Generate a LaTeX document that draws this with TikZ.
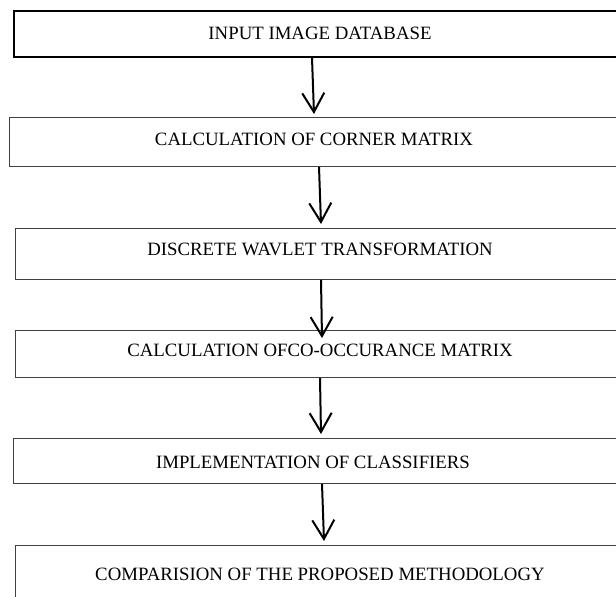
\documentclass[tikz,border=0pt]{standalone}
\usepackage{fontspec}
\setmainfont{Liberation Serif}
\usetikzlibrary{arrows.meta}
\begin{document}
\begin{tikzpicture}[x=1pt,y=-1pt,
  box/.style={draw=black!75, line width=0.9pt, rectangle, inner sep=0pt, anchor=north west, fill=none},
  firstbox/.style={box, draw=black, line width=1.8pt},
  lbl/.style={inner sep=0pt, font=\fontsize{18.8}{22}\selectfont},
  arr/.style={line width=2pt, -{Straight Barb[length=19pt,width=22pt,line width=2pt]}}]
\useasboundingbox (0,0) rectangle (616,597);
\clip (0,0) rectangle (616,597);
% boxes
\node[firstbox, minimum width=630pt, minimum height=46pt] (b1) at (13,10) {};
\node[box, minimum width=630pt, minimum height=49pt] (b2) at (9,117) {};
\node[box, minimum width=630pt, minimum height=51pt] (b3) at (15,228) {};
\node[box, minimum width=630pt, minimum height=47pt] (b4) at (15,330) {};
\node[box, minimum width=630pt, minimum height=45pt] (b5) at (13,438) {};
\node[box, minimum width=630pt, minimum height=80pt] (b6) at (15,545) {};
% labels
\node[lbl] (t1) at (320,33) {INPUT IMAGE DATABASE};
\node[lbl] (t2) at (314,139) {CALCULATION OF CORNER MATRIX};
\node[lbl] (t3) at (320,249) {DISCRETE WAVLET TRANSFORMATION};
\node[lbl] (t4) at (320,350) {CALCULATION OFCO-OCCURANCE MATRIX};
\node[lbl] (t5) at (313,462) {IMPLEMENTATION OF CLASSIFIERS};
\node[lbl] (t6) at (320,574) {COMPARISION OF THE PROPOSED METHODOLOGY};
% arrows
\coordinate (e1) at (314,114);
\coordinate (e2) at (321,224);
\coordinate (e3) at (322,338);
\coordinate (e4) at (321,434);
\coordinate (e5) at (324,541);
\draw[arr] (b1.south -| 312,0) -- (e1);
\draw[arr] (b2.south -| 319,0) -- (e2);
\draw[arr] (b3.south -| 321,0) -- (e3);
\draw[arr] (b4.south -| 320,0) -- (e4);
\draw[arr] (b5.south -| 322,0) -- (e5);
\end{tikzpicture}
\end{document}
